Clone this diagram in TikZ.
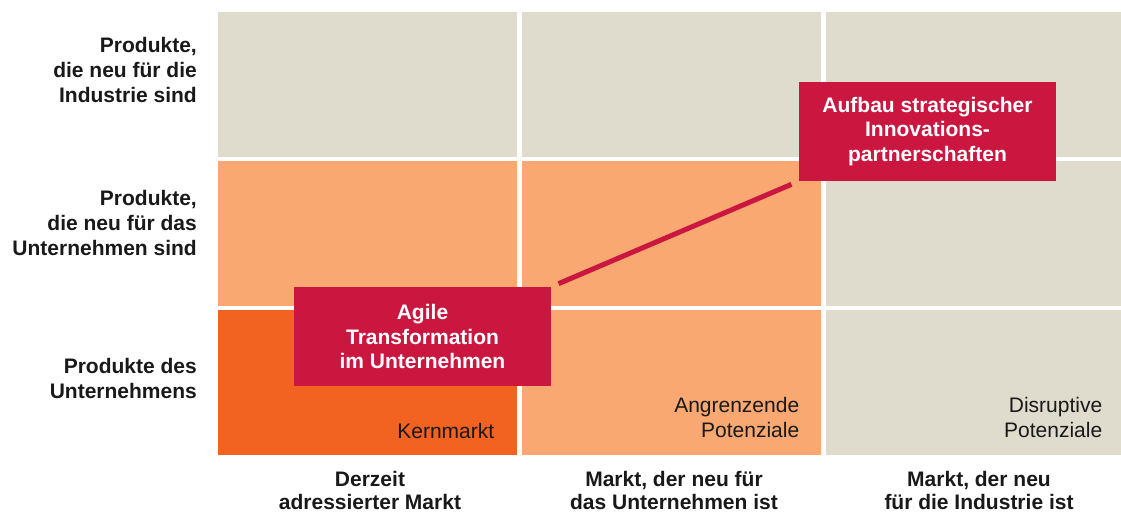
\documentclass[tikz,border=0pt]{standalone}
\usepackage{fontspec}
\setmainfont{Liberation Sans}
\usetikzlibrary{positioning}
\usepackage{xcolor}

\definecolor{fieldgrey}{HTML}{DFDCCD}
\definecolor{fieldlight}{HTML}{F8A870}
\definecolor{fielddark}{HTML}{F26322}
\definecolor{accent}{HTML}{CB1640}

\begin{document}
\begin{tikzpicture}[
  x=1pt, y=-1pt,
  font=\fontsize{21}{25}\selectfont,
  cell/.style={anchor=north west, inner sep=0pt, minimum width=299pt, minimum height=145pt},
  cellnarrow/.style={cell, minimum width=295pt},
  rowlab/.style={anchor=north east, align=right, inner sep=0pt, text=black!90, font=\fontsize{21}{25}\selectfont\bfseries},
  collab/.style={anchor=north, align=center, inner sep=0pt, text=black!90, font=\fontsize{21}{23}\selectfont\bfseries},
  note/.style={align=right, inner sep=0pt, text=black!90},
  task/.style={fill=accent, text=white, align=center, minimum width=257pt, minimum height=99pt, inner sep=0pt, font=\fontsize{21}{24.5}\selectfont\bfseries},
  link/.style={draw=accent, line width=5pt, shorten <=8pt, shorten >=8pt},
]
  \useasboundingbox (0,0) rectangle (1121,514);

  % Market / product grid
  \node[cell, fill=fieldgrey] (top1) at (218,12) {};
  \node[cell, fill=fieldgrey] (top2) at (522,12) {};
  \node[cellnarrow, fill=fieldgrey] (top3) at (826,12) {};
  \node[cell, fill=fieldlight] (mid1) at (218,161) {};
  \node[cell, fill=fieldlight] (mid2) at (522,161) {};
  \node[cellnarrow, fill=fieldgrey] (mid3) at (826,161) {};
  \node[cell, fill=fielddark] (low1) at (218,310) {};
  \node[cell, fill=fieldlight] (low2) at (522,310) {};
  \node[cellnarrow, fill=fieldgrey] (low3) at (826,310) {};

  % Field names in the bottom row
  \node[note, above left=17pt and 23pt of low1.south east] (kern) {Kernmarkt};
  \node[note, above left=18pt and 22pt of low2.south east] (angr) {Angrenzende\\Potenziale};
  \node[note, above left=18pt and 19pt of low3.south east] (disr) {Disruptive\\Potenziale};

  % Row labels
  \node[rowlab] (prodind) at (197,37) {Produkte,\\die neu für die\\Industrie sind};
  \node[rowlab] (produnt) at (197,190) {Produkte,\\die neu für das\\Unternehmen sind};
  \node[rowlab] (prodown) at (197,358) {Produkte des\\Unternehmens};

  % Column labels
  \node[collab] (mktcur) at (370,471) {Derzeit\\adressierter Markt};
  \node[collab] (mktunt) at (674,471) {Markt, der neu für\\das Unternehmen ist};
  \node[collab] (mktind) at (979,471) {Markt, der neu\\für die Industrie ist};

  % Initiatives and the path between them
  \node[task] (agile) at (422.5,336.5) {Agile\\Transformation\\im Unternehmen};
  \node[task] (partner) at (927.5,131.5) {Aufbau strategischer\\Innovations-\\partnerschaften};
  \draw[link] (agile.north east) -- (partner.south west);
\end{tikzpicture}
\end{document}
